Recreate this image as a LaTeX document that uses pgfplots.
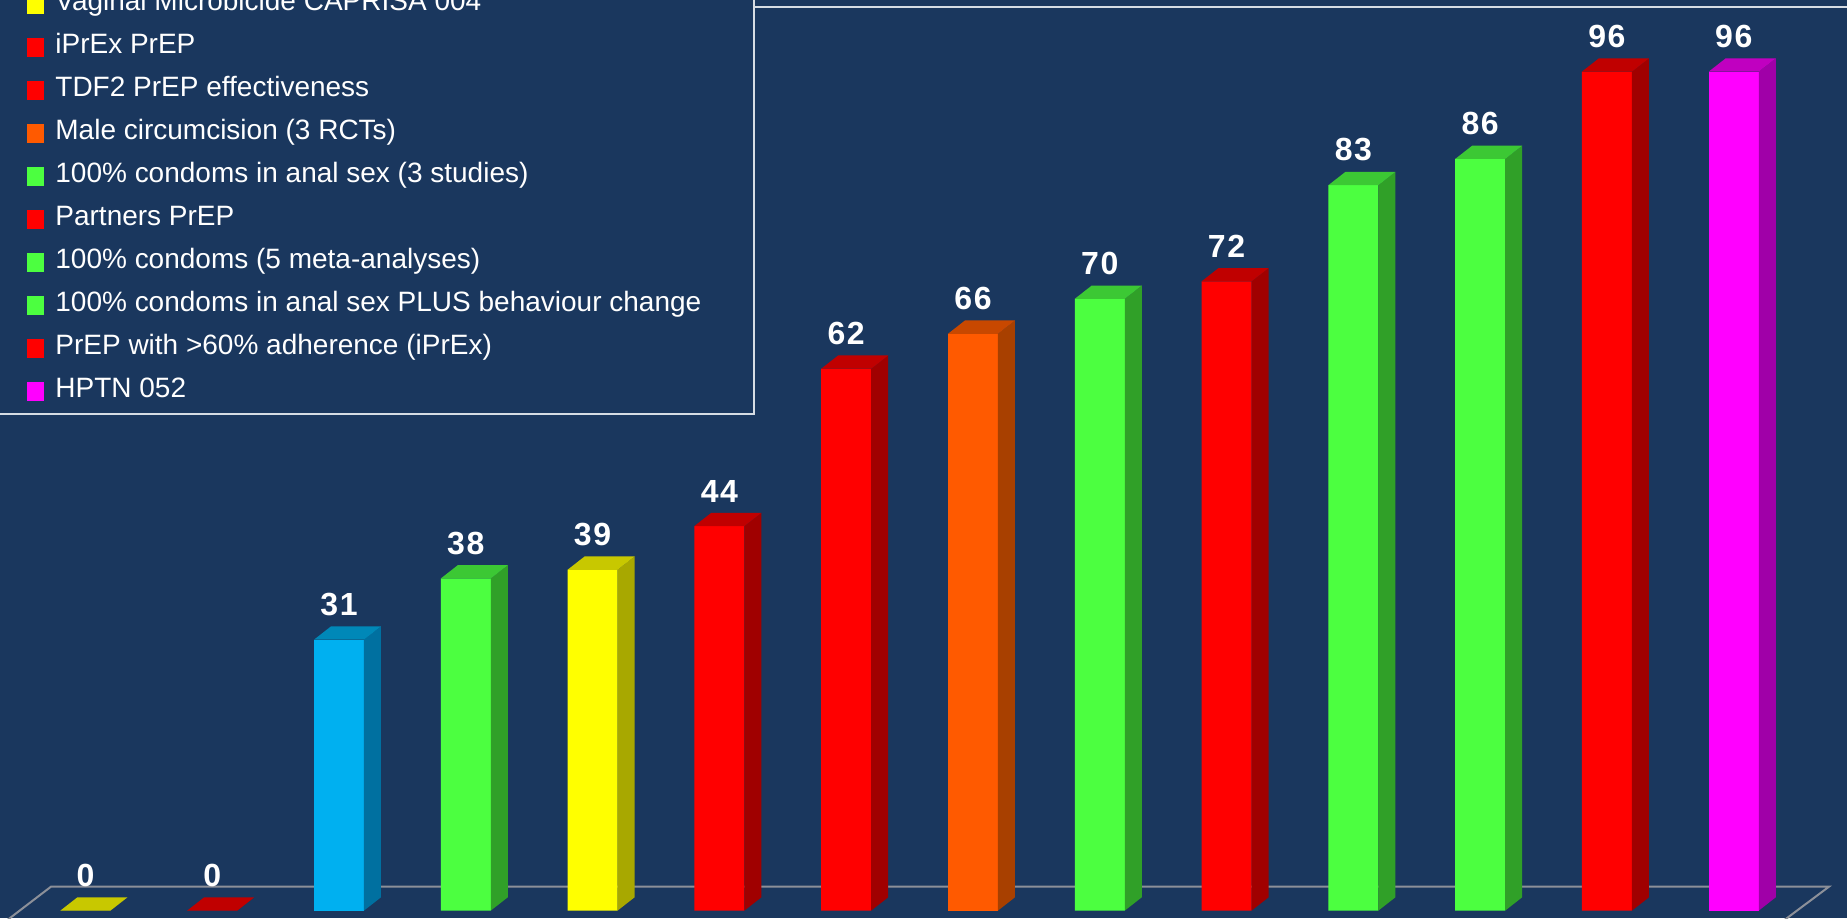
\documentclass[border=0pt]{standalone}
\usepackage{fontspec}
\setmainfont{Liberation Sans}
\usepackage{pgfplots}
\usepackage{pgfplotstable}
\pgfplotsset{compat=1.18}
\usetikzlibrary{backgrounds}

\definecolor{bg}{HTML}{1A375E}
\definecolor{floorc}{HTML}{8C9099}
\definecolor{frameline}{HTML}{D6DCE4}
\definecolor{yelF}{HTML}{FFFF00}\definecolor{yelS}{HTML}{A8A800}\definecolor{yelT}{HTML}{C8C800}
\definecolor{redF}{HTML}{FF0000}\definecolor{redS}{HTML}{A00000}\definecolor{redT}{HTML}{C00000}
\definecolor{cyaF}{HTML}{00B0F0}\definecolor{cyaS}{HTML}{0070A0}\definecolor{cyaT}{HTML}{0088B8}
\definecolor{grnF}{HTML}{4CFF40}\definecolor{grnS}{HTML}{30A028}\definecolor{grnT}{HTML}{3CC834}
\definecolor{oraF}{HTML}{FF5A00}\definecolor{oraS}{HTML}{A84000}\definecolor{oraT}{HTML}{C84800}
\definecolor{magF}{HTML}{FF00FF}\definecolor{magS}{HTML}{A000A8}\definecolor{magT}{HTML}{C000C0}

% side and top faces of a 3D bar, drawn at the bar's data point
\newcommand\defbarmark[3]{%
 \pgfdeclareplotmark{bar3d#1}{%
  \pgfmathsetlengthmacro\bh{\barv*4.37}%
  \pgfpathmoveto{\pgfqpoint{12.5pt}{0pt}}%
  \pgfpathlineto{\pgfqpoint{21pt}{6.65pt}}%
  \pgfpathlineto{\pgfpoint{21pt}{6.65pt-\bh}}%
  \pgfpathlineto{\pgfpoint{12.5pt}{-\bh}}%
  \pgfpathclose
  \pgfsetfillcolor{#2}\pgfusepath{fill}%
  \pgfpathmoveto{\pgfqpoint{-12.5pt}{0pt}}%
  \pgfpathlineto{\pgfqpoint{12.5pt}{0pt}}%
  \pgfpathlineto{\pgfqpoint{21pt}{6.65pt}}%
  \pgfpathlineto{\pgfqpoint{-4pt}{6.65pt}}%
  \pgfpathclose
  \pgfsetfillcolor{#3}\pgfusepath{fill}%
 }}
\defbarmark{yel}{yelS}{yelT}
\defbarmark{red}{redS}{redT}
\defbarmark{cya}{cyaS}{cyaT}
\defbarmark{grn}{grnS}{grnT}
\defbarmark{ora}{oraS}{oraT}
\defbarmark{mag}{magS}{magT}

\pgfplotstableread{
x v
1 0
5 39
}\tyel
\pgfplotstableread{
x v
2 0
6 44
7 62
10 72
13 96
}\tred
\pgfplotstableread{
x v
3 31
}\tcya
\pgfplotstableread{
x v
4 38
9 70
11 83
12 86
}\tgrn
\pgfplotstableread{
x v
8 66
}\tora
\pgfplotstableread{
x v
14 96
}\tmag

\pgfplotsset{
 bar3d/.style={ybar, bar width=25pt, bar shift=0pt, draw=none, fill=#1F,
   scatter, mark=bar3d#1, forget plot,
   visualization depends on={\thisrow{v} \as \barv},
   nodes near coords,
   every node near coord/.append style={font=\fontsize{16}{18}\selectfont\bfseries\addfontfeatures{LetterSpace=5},
     text=white, inner sep=0pt, yshift=11.75pt, anchor=south}},
}

\begin{document}
\begin{tikzpicture}
\begin{axis}[name=ax, x=63.4pt, y=4.37pt,
  xmin=0.3265, xmax=14.893, ymin=-0.847, ymax=104.19,
  hide axis, /pgf/number format/assume math mode=true]
 \addplot[draw=floorc, line width=1pt, mark=none, forget plot] coordinates
   {(0.2815,-2.22) (0.7287,2.74) (14.751,2.74) (14.294,-2.22)};
 \addplot[bar3d=yel] table[x=x,y=v] {\tyel};
 \addplot[bar3d=red] table[x=x,y=v] {\tred};
 \addplot[bar3d=cya] table[x=x,y=v] {\tcya};
 \addplot[bar3d=grn] table[x=x,y=v] {\tgrn};
 \addplot[bar3d=ora] table[x=x,y=v] {\tora};
 \addplot[bar3d=mag] table[x=x,y=v] {\tmag};
\end{axis}
\begin{scope}[on background layer]
 \fill[bg] (ax.south west) rectangle (ax.north east);
\end{scope}
\begin{scope}[shift={(ax.north west)}]
 \draw[frameline, line width=1pt] (-5pt,-207pt) -- (377pt,-207pt) -- (377pt,5pt);
 \draw[frameline, line width=1pt] (377pt,-3.35pt) -- (935pt,-3.35pt);
 \foreach \c/\t [count=\k from 0] in {
   yelF/{Vaginal Microbicide CAPRISA 004},
   redF/{iPrEx PrEP},
   redF/{TDF2 PrEP effectiveness},
   oraF/{Male circumcision (3 RCTs)},
   grnF/{100\% condoms in anal sex (3 studies)},
   redF/{Partners PrEP},
   grnF/{100\% condoms (5 meta-analyses)},
   grnF/{100\% condoms in anal sex PLUS behaviour change},
   redF/{PrEP with >60\% adherence (iPrEx)},
   magF/{HPTN 052}} {
   \pgfmathsetmacro\by{-(198.65-(9-\k)*21.5)}
   \fill[\c] (13.5pt,{\by*1pt-1.7pt}) rectangle (22pt,{\by*1pt+7.8pt});
   \node[anchor=base west, inner sep=0pt, text=white, font=\fontsize{14}{16}\selectfont]
     at (27.5pt,{\by*1pt}) {\t};
 }
\end{scope}
\pgfresetboundingbox
\path[use as bounding box] (ax.south west) rectangle (ax.north east);
\end{tikzpicture}
\end{document}
